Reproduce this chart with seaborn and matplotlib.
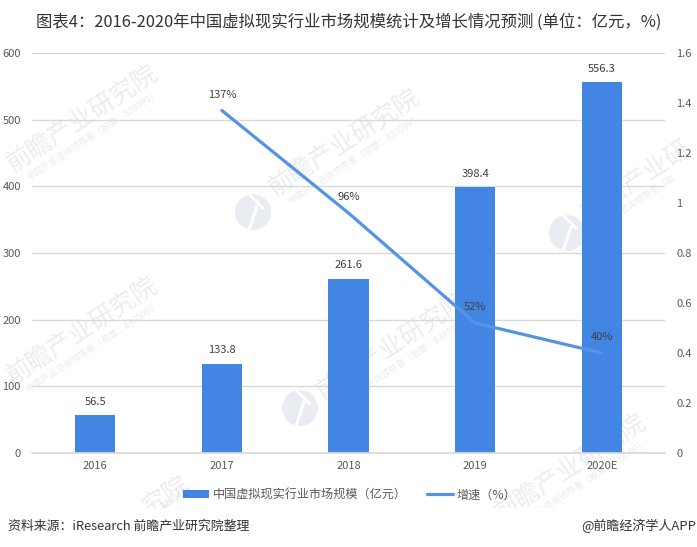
import matplotlib
matplotlib.use('Agg')
import matplotlib.pyplot as plt
import seaborn as sns
import pandas as pd
from matplotlib.patches import Patch, Ellipse, Rectangle
from matplotlib.lines import Line2D

# chart data
years = ['2016', '2017', '2018', '2019', '2020E']
market_size = [56.5, 133.8, 261.6, 398.4, 556.3]
growth = [None, 1.37, 0.96, 0.52, 0.40]
growth_labels = ['', '137%', '96%', '52%', '40%']
left_ticks = [0, 100, 200, 300, 400, 500, 600]
right_ticks = [0, 0.2, 0.4, 0.6, 0.8, 1, 1.2, 1.4, 1.6]

title = '图表4：2016-2020年中国虚拟现实行业市场规模统计及增长情况预测 (单位：亿元，%)'
source = '资料来源：iResearch 前瞻产业研究院整理'
credit = '@前瞻经济学人APP'
bar_name = '中国虚拟现实行业市场规模（亿元）'
line_name = '增速（%）'
mark_big = '前瞻产业研究院'
mark_small = '中国产业咨询领导者（股票：839599）'
mark_spots = [(82, 118), (344, 142), (82, 330), (392, 345), (570, 467)]
logo_spots = [(253, 212), (567, 233), (300, 408)]

sns.set_theme(style='white')
plt.rcParams['font.family'] = ['Noto Sans CJK SC', 'DejaVu Sans']

BAR_COLOR = '#4285e2'
LINE_COLOR = '#5593e6'
GRID = '#d9d9d9'
TICK = '#595959'
W, H = 697, 547

df = pd.DataFrame({'year': years, 'size': market_size, 'growth': growth})
df['growth'] = df['growth'].astype(float)

fig = plt.figure(figsize=(W / 100, H / 100), dpi=100)
ax = fig.add_axes([32 / W, 1 - 453 / H, 633 / W, 400 / H])
ax.patch.set_visible(False)

sns.barplot(data=df, x='year', y='size', color=BAR_COLOR, width=0.316, saturation=1, linewidth=0, ax=ax, zorder=2)
ax.set_xlim(-0.5, 4.5)
ax.set_ylim(0, 600)
ax.set_yticks(left_ticks)
ax.set_xlabel('')
ax.set_ylabel('')
ax.grid(axis='y', color=GRID, lw=1)
ax.set_axisbelow(True)
ax.tick_params(axis='both', length=0, labelsize=8, labelcolor=TICK)
ax.tick_params(axis='x', pad=6)
ax.tick_params(axis='y', pad=8)
sns.despine(ax=ax, left=True, right=True, top=True)
ax.spines['bottom'].set_color(GRID)
ax.bar_label(ax.containers[0], fmt='%.1f', padding=6, fontsize=8, color='#404040')

ax2 = ax.twinx()
ax2.patch.set_visible(False)
sns.lineplot(data=df, x='year', y='growth', color=LINE_COLOR, lw=2.3, ax=ax2, sort=False)
ax2.set_ylim(0, 1.6)
ax2.set_yticks(right_ticks)
ax2.set_yticklabels([f'{t:g}' for t in right_ticks])
ax2.set_xlabel('')
ax2.set_ylabel('')
ax2.grid(False)
ax2.tick_params(axis='y', length=0, labelsize=8, labelcolor=TICK, pad=8)
for side in ax2.spines:
    ax2.spines[side].set_visible(False)

for year, val, lab in zip(years, growth, growth_labels):
    if val is not None:
        ax2.annotate(lab, (year, val), xytext=(0, 11.5), textcoords='offset points',
                     ha='center', va='center', fontsize=8, color='#404040')


def add_mark(x, y, big, small, dx=11, dy=17):
    fig.text(x / W, 1 - y / H, big, rotation=33, ha='center', va='center', rotation_mode='anchor',
             fontsize=18, color='#9aa3b0', alpha=0.2, zorder=-3)
    fig.text((x + dx) / W, 1 - (y + dy) / H, small, rotation=33, ha='center', va='center', rotation_mode='anchor',
             fontsize=6.5, color='#9aa3b0', alpha=0.22, zorder=-3)


# watermark sits behind the axes, cut off above and below the chart band
for x, y in mark_spots:
    add_mark(x, y, mark_big, mark_small)
# these two only show part of the text in the picture
add_mark(636, 180, mark_big[:5], mark_small[:11], dx=-3, dy=24)
add_mark(166, 496, mark_big[-2:], mark_small[-8:], dx=10, dy=2)
for x, y in logo_spots:
    fig.add_artist(Ellipse((x / W, 1 - y / H), 36 / W, 36 / H, transform=fig.transFigure,
                           color='#e9edf3', lw=0, zorder=-3))
    fig.add_artist(Line2D([(x - 4) / W, (x + 4) / W], [1 - (y + 18) / H, 1 - (y - 6) / H],
                          transform=fig.transFigure, color='white', lw=2, zorder=-3))
    fig.add_artist(Line2D([(x - 4) / W, (x + 10) / W], [1 - (y - 18) / H, 1 - (y - 4) / H],
                          transform=fig.transFigure, color='white', lw=2, zorder=-3))
fig.add_artist(Rectangle((0, 0), 1, (H - 508) / H, transform=fig.transFigure, color='white', lw=0, zorder=-2))
fig.add_artist(Rectangle((0, 1 - 42 / H), 1, 42 / H, transform=fig.transFigure, color='white', lw=0, zorder=-2))

handles = [Patch(color=BAR_COLOR, lw=0, label=bar_name), Line2D([0], [0], color=LINE_COLOR, lw=2.3, label=line_name)]
fig.legend(handles=handles, loc='center', bbox_to_anchor=(350 / W, 1 - 495 / H), ncol=2, frameon=False,
           fontsize=8.7, labelcolor=TICK, handlelength=2.15, handleheight=0.6, handletextpad=0.3,
           columnspacing=1.7, borderpad=0)

fig.text(348.5 / W, 1 - 22 / H, title, ha='center', va='center', fontsize=11.8, color='#333333')
fig.text(8 / W, 1 - 526 / H, source, ha='left', va='center', fontsize=9.3, color='#333333')
fig.text(696 / W, 1 - 526 / H, credit, ha='right', va='center', fontsize=9.4, color='#333333')

fig.savefig('out.png', dpi=100)
